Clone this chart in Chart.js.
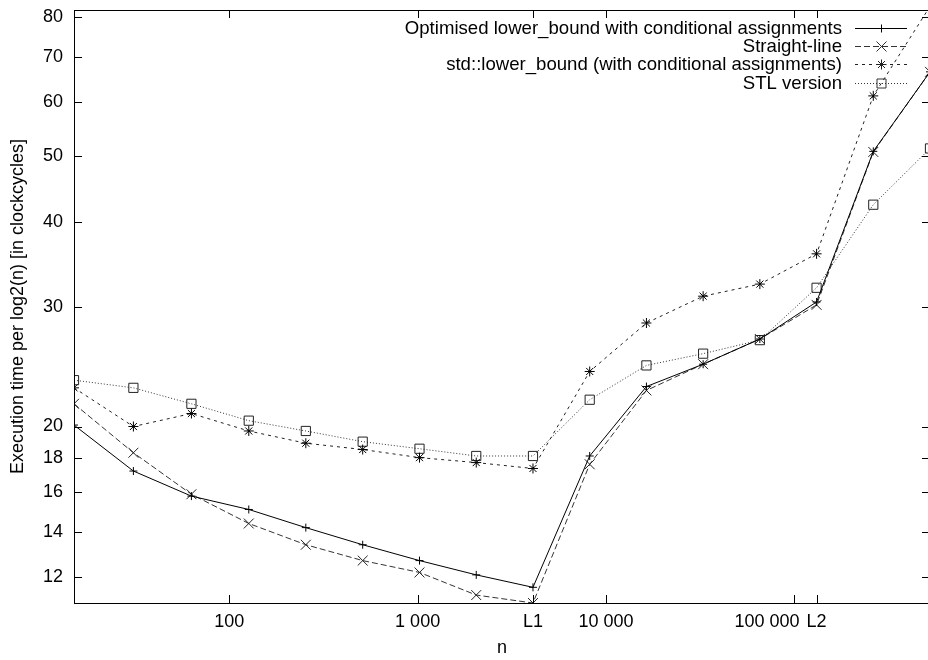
<!DOCTYPE html>
<html>
<head>
<meta charset="utf-8">
<script src="https://cdn.jsdelivr.net/npm/chart.js@4/dist/chart.umd.min.js"></script>
<style>
  html, body { margin: 0; padding: 0; background: #fff; overflow: hidden; }
  #wrap { width: 930px; height: 660px; }
</style>
</head>
<body>
<div id="wrap"><canvas id="chart" width="930" height="660"></canvas></div>
<script>
// problem sizes n = 2^k - 1, k = 4 .. 19
const sizes = [15, 31, 63, 127, 255, 511, 1023, 2047, 4095, 8191, 16383, 32767, 65535, 131071, 262143, 524287];

// execution time per log2(n), clockcycles
const optimised = [20.1, 17.2, 15.8, 15.1, 14.2, 13.4, 12.7, 12.1, 11.6, 18.1, 22.9, 24.7, 26.9, 30.5, 50.8, 66.5];
const straightLine = [21.6, 18.3, 15.9, 14.4, 13.4, 12.7, 12.2, 11.3, 11.0, 17.6, 22.6, 24.7, 26.9, 30.2, 50.7, 66.5];
const stdLowerBound = [22.8, 20.0, 20.9, 19.7, 18.9, 18.5, 18.0, 17.7, 17.35, 24.1, 28.4, 31.1, 32.4, 35.9, 61.3, 83.0];
const stlVersion = [23.4, 22.8, 21.6, 20.4, 19.7, 19.0, 18.55, 18.1, 18.1, 21.9, 24.6, 25.6, 26.8, 32.0, 42.4, 51.3];

const xTickValues = [100, 1000, 4096, 10000, 100000, 131072];
// the 100 000 label sits left of its tick in the original, padded with trailing spaces
const xTickLabels = ["100", "1 000", "L1", "10 000", "100 000\u00a0\u00a0\u00a0\u00a0\u00a0\u00a0\u00a0\u00a0\u00a0\u00a0\u00a0", "L2"];
const yTickValues = [12, 14, 16, 18, 20, 30, 40, 50, 60, 70, 80];

const FONT = "'Liberation Sans', Arial, Helvetica, sans-serif";

function points(values) {
  return sizes.map((n, i) => ({ x: n, y: values[i] }));
}

function drawMarker(ctx, style, x, y) {
  ctx.beginPath();
  if (style === "cross") {
    ctx.moveTo(x - 4, y); ctx.lineTo(x + 4, y);
    ctx.moveTo(x, y - 4); ctx.lineTo(x, y + 4);
  } else if (style === "crossRot") {
    ctx.moveTo(x - 5, y - 5); ctx.lineTo(x + 5, y + 5);
    ctx.moveTo(x - 5, y + 5); ctx.lineTo(x + 5, y - 5);
  } else if (style === "star") {
    ctx.moveTo(x - 5, y); ctx.lineTo(x + 5, y);
    ctx.moveTo(x, y - 5); ctx.lineTo(x, y + 5);
    ctx.moveTo(x - 3.5, y - 3.5); ctx.lineTo(x + 3.5, y + 3.5);
    ctx.moveTo(x - 3.5, y + 3.5); ctx.lineTo(x + 3.5, y - 3.5);
  } else {
    ctx.rect(x - 4.5, y - 4.5, 9, 9);
  }
  ctx.stroke();
}

// gnuplot style frame: border plus inward ticks on all four sides, key in the top right
const framePlugin = {
  id: "frame",
  afterDraw(chart) {
    const { ctx, chartArea: a } = chart;
    const xs = chart.scales.x;
    const ys = chart.scales.y;
    ctx.save();
    ctx.strokeStyle = "#000";
    ctx.lineWidth = 1;
    ctx.setLineDash([]);
    ctx.beginPath();
    ctx.strokeRect(a.left + 0.5, a.top + 0.5, a.right - a.left - 1, a.bottom - a.top);
    xTickValues.forEach(v => {
      const px = Math.round(xs.getPixelForValue(v)) + 0.5;
      ctx.moveTo(px, a.bottom); ctx.lineTo(px, a.bottom - 8);
      ctx.moveTo(px, a.top); ctx.lineTo(px, a.top + 8);
    });
    yTickValues.forEach(v => {
      const py = Math.round(ys.getPixelForValue(v)) + 0.5;
      ctx.moveTo(a.left, py); ctx.lineTo(a.left + 8, py);
      ctx.moveTo(a.right, py); ctx.lineTo(a.right - 8, py);
    });
    ctx.stroke();

    // key
    ctx.font = "18.6px " + FONT;
    ctx.textAlign = "right";
    ctx.textBaseline = "middle";
    chart.data.datasets.forEach((ds, i) => {
      const y = 27.5 + i * 18.4;
      ctx.fillStyle = "#000";
      ctx.fillText(ds.label, 842, y + 1);
      ctx.strokeStyle = ds.borderColor;
      ctx.setLineDash(ds.borderDash || []);
      ctx.beginPath();
      ctx.moveTo(855, Math.round(y) + 0.5);
      ctx.lineTo(907, Math.round(y) + 0.5);
      ctx.stroke();
      ctx.setLineDash([]);
      drawMarker(ctx, ds.pointStyle, 881.5, Math.round(y) + 0.5);
    });
    ctx.restore();
  }
};

const baseSet = {
  borderWidth: 1,
  pointBorderWidth: 1,
  pointBackgroundColor: "rgba(0,0,0,0)",
  tension: 0,
  fill: false
};

new Chart(document.getElementById("chart"), {
  type: "line",
  data: {
    datasets: [
      { ...baseSet, label: "Optimised lower_bound with conditional assignments", data: points(optimised),
        borderColor: "#000", pointBorderColor: "#000", pointStyle: "cross", pointRadius: 4, borderDash: [] },
      { ...baseSet, label: "Straight-line", data: points(straightLine),
        borderColor: "#333", pointBorderColor: "#222", pointStyle: "crossRot", pointRadius: 7, borderDash: [6, 3] },
      { ...baseSet, label: "std::lower_bound (with conditional assignments)", data: points(stdLowerBound),
        borderColor: "#222", pointBorderColor: "#000", pointStyle: "star", pointRadius: 5, borderDash: [3, 4] },
      { ...baseSet, label: "STL version", data: points(stlVersion),
        borderColor: "#333", pointBorderColor: "#222", pointStyle: "rect", pointRadius: 6.5, borderDash: [1, 2] }
    ]
  },
  options: {
    responsive: false,
    animation: false,
    layout: { autoPadding: false, padding: { top: 10, right: 0, left: 0, bottom: 0 } },
    plugins: {
      legend: { display: false },
      tooltip: { enabled: false }
    },
    scales: {
      x: {
        type: "logarithmic",
        min: 15,
        max: 524287,
        afterBuildTicks: scale => { scale.ticks = xTickValues.map(v => ({ value: v })); },
        afterFit: scale => {
          scale.height = 57;
          scale.paddingLeft = 0;
          scale.paddingRight = 0;
        },
        ticks: {
          autoSkip: false,
          maxRotation: 0,
          padding: 8,
          color: "#000",
          font: { family: FONT, size: 18 },
          callback: (value) => xTickLabels[xTickValues.indexOf(value)]
        },
        grid: { display: false, drawTicks: false },
        border: { display: false },
        title: { display: true, text: "n", color: "#000", font: { family: FONT, size: 18 }, padding: { top: 0, bottom: 1 } }
      },
      y: {
        type: "logarithmic",
        min: 11,
        max: 82,
        afterBuildTicks: scale => { scale.ticks = yTickValues.map(v => ({ value: v })); },
        afterFit: scale => {
          scale.width = 74;
          scale.paddingTop = 0;
          scale.paddingBottom = 0;
        },
        ticks: {
          autoSkip: false,
          padding: 11,
          color: "#000",
          font: { family: FONT, size: 18 },
          callback: (value) => String(value)
        },
        grid: { display: false, drawTicks: false },
        border: { display: false },
        title: { display: true, text: "Execution time per log2(n) [in clockcycles]", color: "#000", font: { family: FONT, size: 18 }, padding: { top: 7, bottom: 0 } }
      }
    }
  },
  plugins: [framePlugin]
});
</script>
</body>
</html>
